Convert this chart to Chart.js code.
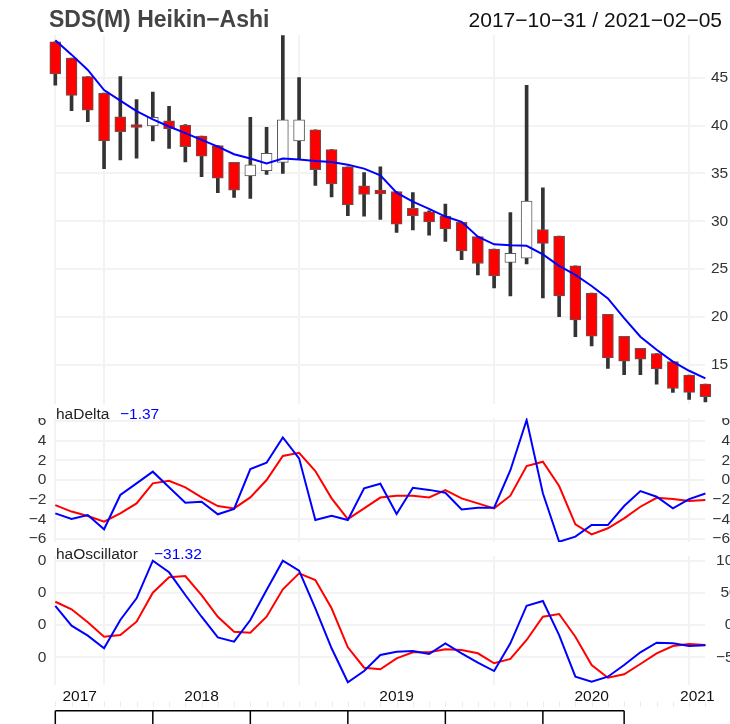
<!DOCTYPE html>
<html>
<head>
<meta charset="utf-8">
<script src="https://cdn.jsdelivr.net/npm/chart.js@4/dist/chart.umd.min.js"></script>
<style>
body { margin:0; background:#fff; }
canvas { position:absolute; left:0; }
</style>
</head>
<body>
<canvas id="mainChart" width="730" height="408" style="top:0px"></canvas>
<canvas id="deltaChart" width="730" height="136" style="top:408px"></canvas>
<canvas id="oscChart" width="730" height="180" style="top:544px"></canvas>
<script>
// monthly Heikin-Ashi bars, SDS
var months = ['2017-10','2017-11','2017-12',
	'2018-01','2018-02','2018-03','2018-04','2018-05','2018-06','2018-07','2018-08','2018-09','2018-10','2018-11','2018-12',
	'2019-01','2019-02','2019-03','2019-04','2019-05','2019-06','2019-07','2019-08','2019-09','2019-10','2019-11','2019-12',
	'2020-01','2020-02','2020-03','2020-04','2020-05','2020-06','2020-07','2020-08','2020-09','2020-10','2020-11','2020-12',
	'2021-01','2021-02'];

var haOpen = [48.75,47.05,45.1,43.4,40.9,40.1,39.95,40.5,40.05,38.9,37.9,36.15,34.75,35.3,36.15,38.4,39.55,37.5,35.7,33.7,
	33.25,33.1,31.35,31.0,30.55,29.9,28.4,27.1,25.7,26.15,29.15,28.45,25.35,22.5,20.3,18.0,16.75,16.2,15.35,13.95,13.0];
var haHigh = [48.75,47.05,45.1,43.4,45.1,42.7,43.5,42.0,40.1,38.9,37.9,36.15,40.85,39.8,49.4,45.0,39.55,37.5,35.7,35.1,
	35.7,33.1,33.0,31.1,31.8,29.9,28.4,27.1,30.9,44.2,33.5,28.45,25.35,22.5,20.3,18.0,16.75,16.2,15.35,13.95,13.0];
var haLow = [44.2,41.55,40.4,35.5,36.4,36.6,38.4,37.6,36.2,34.65,33.0,32.5,32.4,34.9,35.0,36.5,33.75,32.55,30.6,30.55,
	30.2,28.85,29.1,28.55,27.9,26.0,24.4,23.05,22.2,25.55,22.0,20.05,17.95,17.0,14.65,14.0,14.0,13.0,12.15,11.4,11.15];
var haClose = [45.4,43.15,41.6,38.4,39.35,39.8,40.85,39.65,37.8,36.8,34.5,33.25,35.9,37.1,40.6,40.6,35.4,33.9,31.7,32.8,
	32.85,29.7,30.6,29.95,29.2,26.9,25.6,24.3,26.65,32.1,27.7,22.2,19.7,18.0,15.75,15.4,15.6,14.6,12.55,12.15,11.7];
var haTrend = [48.9,47.4,45.8,43.7,42.6,41.5,40.65,39.9,39.2,38.5,37.8,37.0,36.55,36.05,36.55,36.45,36.3,36.2,35.9,35.5,
	34.8,33.0,32.05,31.3,30.5,29.95,28.4,27.6,27.5,27.45,26.55,25.35,24.4,23.25,21.95,19.9,17.95,16.6,15.35,14.4,13.6];

var haDelta = [-3.38,-3.96,-3.55,-5.0,-1.52,-0.34,0.85,-0.74,-2.3,-2.2,-3.48,-2.94,1.12,1.76,4.33,2.2,-4.06,-3.62,-4.06,-0.85,
	-0.38,-3.45,-0.78,-1.0,-1.29,-2.98,-2.81,-2.81,1.0,6.1,-1.35,-6.26,-5.75,-4.57,-4.57,-2.64,-1.12,-1.69,-2.88,-1.93,-1.37];
var haDeltaSig = [-2.54,-3.2,-3.65,-4.23,-3.38,-2.37,-0.34,-0.07,-0.74,-1.76,-2.64,-2.88,-1.76,0,2.44,2.77,0.91,-1.86,-3.96,-2.88,
	-1.78,-1.59,-1.59,-1.76,-1.02,-1.86,-2.37,-2.88,-1.59,1.42,1.86,-0.61,-4.5,-5.51,-4.9,-3.89,-2.71,-1.8,-1.93,-2.13,-2.03];

var haOsc = [29.7,-0.9,-16.4,-36.0,7.9,41.6,100,82,46.7,13.0,-19.0,-25.8,7.9,54.5,100,84.5,26.1,-36.0,-88.8,-71.3,
	-46.4,-41.3,-40.2,-44.9,-28.3,-43.8,-58.4,-71.3,-28.3,30.1,37.4,-15.4,-80.1,-87.9,-80.1,-62,-42.2,-27.3,-28.3,-32.5,-31.32];
var haOscSig = [36.3,24.5,4.3,-18.0,-15.4,5.3,50.3,74.2,76.2,46.7,13.0,-10.2,-11.8,13.0,55.6,80.4,70.0,26.1,-34.5,-66.1,
	-68.6,-51.6,-42.2,-42.2,-37.6,-38.7,-43.8,-59.3,-52.6,-23.1,13.0,17.2,-18.0,-62,-81.7,-76.4,-60.4,-43.8,-32.5,-29.3,-30.9];

var mainTicks = [15,20,25,30,35,40,45];
var deltaTicks = [-6,-4,-2,0,2,4,6];
var oscTicks = [-50,0,50,100];
var yearLabels = ['2017','2018','2019','2020','2021'];
var yearTickPos = [1.5,9,21,33,39.5];
var yearGridIdx = [0,3,15,27,39];
var axisTickIdx = [0,6,12,18,24,30,35];

var FONT = "'Liberation Sans', Arial, sans-serif";
Chart.defaults.font.family = FONT;
Chart.defaults.color = '#333';
Chart.defaults.animation = false;

var PLOT_L = 55.3, PLOT_R = 705.4, W = 730;
var GRID = '#f3f3f3';

function fmt(v) {
	return (v < 0 ? '\u2212' : '') + Math.abs(v).toFixed(2);
}
function minus(v) {
	return (v < 0 ? '\u2212' : '') + Math.abs(v);
}

function xCat() {
	return {
		type: 'category', offset: false,
		grid: { offset: false, drawTicks: false, lineWidth: 2,
			color: function(c) { return yearGridIdx.indexOf(c.index) >= 0 ? GRID : 'rgba(0,0,0,0)'; } },
		border: { display: false },
		ticks: { display: false, autoSkip: false },
		afterFit: function(s) { s.height = 0; }
	};
}

// label padding must not push the plot area around
function noPad(s) { s.paddingTop = 0; s.paddingBottom = 0; }

function yRight(min, max, ticks, align, pad) {
	return {
		position: 'right', min: min, max: max,
		afterBuildTicks: function(s) { s.ticks = ticks.map(function(v) { return {value: v}; }); },
		afterFit: function(s) { s.width = W - PLOT_R; noPad(s); },
		grid: { color: GRID, lineWidth: 2, drawTicks: false },
		border: { display: false },
		ticks: { font: {size: 15.5}, color: '#333', crossAlign: align, padding: pad, autoSkip: false, callback: minus }
	};
}

function yLeft(min, max, ticks) {
	return {
		position: 'left', min: min, max: max,
		afterBuildTicks: function(s) { s.ticks = ticks.map(function(v) { return {value: v}; }); },
		afterFit: function(s) { s.width = PLOT_L; noPad(s); },
		grid: { display: false, drawTicks: false },
		border: { display: false },
		ticks: { font: {size: 15.5}, color: '#333', padding: 9, autoSkip: false, callback: minus }
	};
}

function panelTitle(name, value, valueX, baseY, cutTop, cutLeft) {
	return {
		id: 'panelTitle',
		afterDraw: function(chart) {
			var ctx = chart.ctx;
			ctx.save();
			// labels cut at the panel edges
			ctx.fillStyle = '#fff';
			if (cutLeft) ctx.fillRect(0, 0, cutLeft, chart.height);
			if (cutTop) ctx.fillRect(0, 0, W, cutTop);
			ctx.font = '15.5px ' + FONT;
			ctx.textBaseline = 'alphabetic';
			ctx.fillStyle = '#222';
			ctx.fillText(name, 56, baseY);
			ctx.fillStyle = '#0000ff';
			ctx.fillText(fmt(value), valueX, baseY);
			ctx.restore();
		}
	};
}

// ---------- main panel: candles ----------
var bodies = haOpen.map(function(o, i) { return [o, haClose[i]]; });
var wicks = haLow.map(function(l, i) { return [l, haHigh[i]]; });
var bodyColors = haOpen.map(function(o, i) { return haClose[i] < o ? '#ff0000' : '#ffffff'; });

new Chart(document.getElementById('mainChart'), {
	type: 'bar',
	data: {
		labels: months,
		datasets: [
			{ type: 'line', data: haTrend, borderColor: '#0000ff', borderWidth: 2, pointRadius: 0, tension: 0, order: 1 },
			{ data: bodies, backgroundColor: bodyColors, borderColor: '#5a5a5a', borderWidth: 1, borderSkipped: false,
				barThickness: 11, grouped: false, order: 2, clip: {left: 12, right: 12, top: 0, bottom: 6} },
			{ data: wicks, backgroundColor: '#333333', borderWidth: 0, barThickness: 3, grouped: false, order: 3,
				clip: {left: 12, right: 12, top: 0, bottom: 6} }
		]
	},
	options: {
		responsive: false,
		layout: { padding: { left: PLOT_L, top: 35, bottom: 4, right: 0 } },
		plugins: { legend: { display: false }, tooltip: { enabled: false } },
		scales: {
			x: xCat(),
			y: yRight(10.93, 49.45, mainTicks, 'near', 5.6)
		}
	},
	plugins: [{
		id: 'mainTitle',
		afterDraw: function(chart) {
			var ctx = chart.ctx;
			ctx.save();
			ctx.textBaseline = 'alphabetic';
			ctx.font = 'bold 23px ' + FONT;
			ctx.fillStyle = '#444';
			ctx.textAlign = 'left';
			ctx.fillText('SDS(M) Heikin\u2212Ashi', 49, 27);
			ctx.font = '21px ' + FONT;
			ctx.fillStyle = '#111';
			ctx.textAlign = 'right';
			ctx.fillText('2017\u221210\u221231 / 2021\u221202\u221205', 722, 27);
			ctx.restore();
		}
	}]
});

// ---------- haDelta panel ----------
new Chart(document.getElementById('deltaChart'), {
	type: 'line',
	data: {
		labels: months,
		datasets: [
			{ data: haDelta, borderColor: '#0000ff', borderWidth: 2, pointRadius: 0, tension: 0, order: 1 },
			{ data: haDeltaSig, borderColor: '#ff0000', borderWidth: 2, pointRadius: 0, tension: 0, order: 2 }
		]
	},
	options: {
		responsive: false,
		layout: { padding: { left: 0, top: 8, bottom: 2, right: 0 } },
		plugins: { legend: { display: false }, tooltip: { enabled: false } },
		scales: {
			x: xCat(),
			y: yRight(-6.29, 6.5, deltaTicks, 'far', 1),
			yl: yLeft(-6.29, 6.5, deltaTicks)
		}
	},
	plugins: [panelTitle('haDelta', haDelta[haDelta.length - 1], 120, 11, 10, 0)]
});

// ---------- haOscillator panel ----------
new Chart(document.getElementById('oscChart'), {
	type: 'line',
	data: {
		labels: months,
		datasets: [
			{ data: haOsc, borderColor: '#0000ff', borderWidth: 2, pointRadius: 0, tension: 0, order: 1 },
			{ data: haOscSig, borderColor: '#ff0000', borderWidth: 2, pointRadius: 0, tension: 0, order: 2 }
		]
	},
	options: {
		responsive: false,
		layout: { padding: { left: 0, top: 12, bottom: 0, right: 0 } },
		plugins: { legend: { display: false }, tooltip: { enabled: false } },
		scales: {
			x: xCat(),
			years: {
				type: 'linear', position: 'bottom', min: 0, max: months.length - 1,
				afterBuildTicks: function(s) { s.ticks = yearTickPos.map(function(v) { return {value: v}; }); },
				afterFit: function(s) { s.height = 39; s.paddingLeft = 0; s.paddingRight = 0; },
				grid: { display: false, drawTicks: false },
				border: { display: false },
				ticks: { font: {size: 15.5}, color: '#111', padding: 2, maxRotation: 0, autoSkip: false,
					callback: function(v, i) { return yearLabels[i]; } }
			},
			y: yRight(-93, 107.3, oscTicks, 'center', 10.5),
			yl: yLeft(-93, 107.3, oscTicks)
		}
	},
	plugins: [panelTitle('haOscillator', haOsc[haOsc.length - 1], 154, 15, 0, 38), {
		id: 'bottomAxis',
		afterDraw: function(chart) {
			var ctx = chart.ctx, xs = chart.scales.x;
			ctx.save();
			// faint monthly ticks under the labels
			ctx.strokeStyle = '#ececec';
			ctx.lineWidth = 1;
			for (var i = 0; i < months.length; i++) {
				var px = Math.round(xs.getPixelForValue(i)) + 0.5;
				ctx.beginPath(); ctx.moveTo(px, 157.5); ctx.lineTo(px, 163); ctx.stroke();
			}
			// black axis with tick marks
			ctx.strokeStyle = '#000';
			ctx.lineWidth = 1.5;
			var x0 = xs.getPixelForValue(axisTickIdx[0]);
			var x1 = xs.getPixelForValue(axisTickIdx[axisTickIdx.length - 1]);
			ctx.beginPath(); ctx.moveTo(x0, 166.7); ctx.lineTo(x1, 166.7); ctx.stroke();
			axisTickIdx.forEach(function(idx) {
				var px = xs.getPixelForValue(idx);
				ctx.beginPath(); ctx.moveTo(px, 166.7); ctx.lineTo(px, 182); ctx.stroke();
			});
			ctx.restore();
		}
	}]
});
</script>
</body>
</html>
